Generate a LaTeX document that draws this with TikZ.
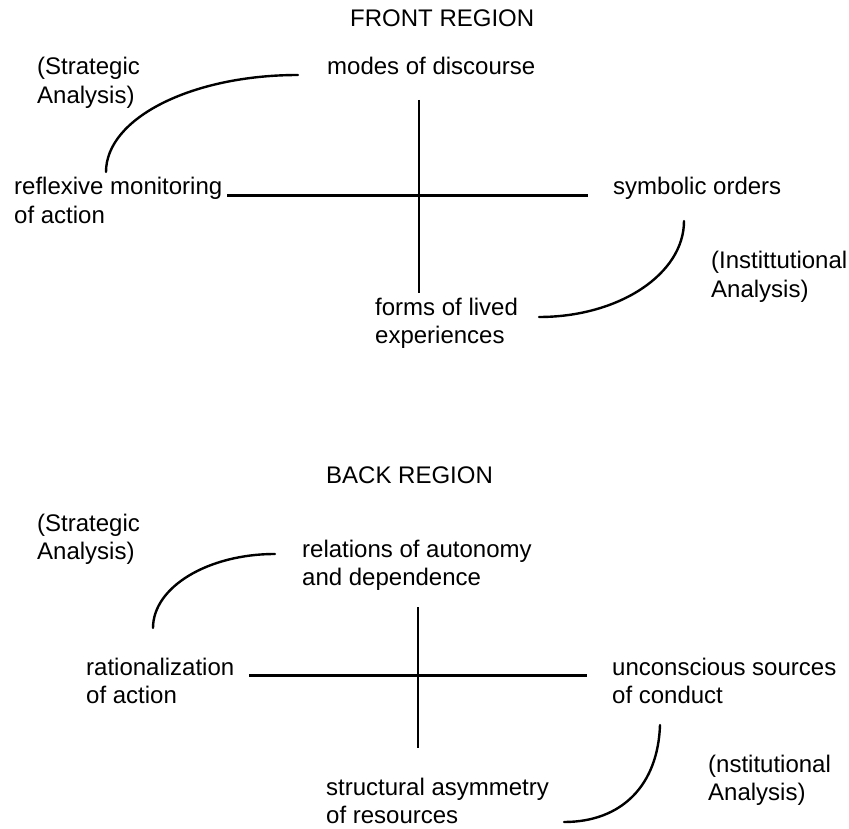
\documentclass[tikz,border=0pt]{standalone}
\usepackage{fontspec}
\setmainfont{Liberation Sans}
\begin{document}
\begin{tikzpicture}[x=1pt,y=-1pt,
  % labels are placed by the baseline of their last line
  lbl/.style={anchor=base west,inner sep=0pt,align=left,
    font=\fontsize{24}{28.5}\selectfont},
  axisv/.style={line width=2.2pt},
  axish/.style={line width=3pt},
  arcline/.style={line width=2.4pt,line cap=round}]
\useasboundingbox (0,0) rectangle (849,829);

% ---------- front region ----------
\node[lbl] (fronttitle) at (350,27) {FRONT REGION};
\node[lbl] (fmodes) at (327,75) {modes of discourse};
\node[lbl] (fstrat) at (37,103.5) {(Strategic\\Analysis)};
\node[lbl] (freflex) at (14,223.5) {reflexive monitoring\\of action};
\node[lbl] (fsymb) at (613,195) {symbolic orders};
\node[lbl] (finst) at (711,297.5) {(Instittutional\\Analysis)};
\node[lbl] (fforms) at (375,343.5) {forms of lived\\experiences};

\coordinate (fvt) at (419,100);
\coordinate (fvb) at (419,293);
\coordinate (fhl) at (227,196);
\coordinate (fhr) at (588,196);
\draw[axisv] (fvt) -- (fvb);
\draw[axish] (fhl) -- (fhr);

\coordinate (fa1) at (298,75);
\coordinate (fa2) at (106,172);
\draw[arcline] (fa1) .. controls (192,75) and (106,118) .. (fa2);
\coordinate (fb1) at (684,221);
\coordinate (fb2) at (539,317);
\draw[arcline] (fb1) .. controls (684,274) and (619,317) .. (fb2);

% ---------- back region ----------
\node[lbl] (backtitle) at (326,483) {BACK REGION};
\node[lbl] (bstrat) at (37,559.5) {(Strategic\\Analysis)};
\node[lbl] (brel) at (302,585.5) {relations of autonomy\\and dependence};
\node[lbl] (brat) at (86,703.5) {rationalization\\of action};
\node[lbl] (bunc) at (612,703.5) {unconscious sources\\of conduct};
\node[lbl] (binst) at (708,800.5) {(nstitutional\\Analysis)};
\node[lbl] (bstruct) at (326,823.5) {structural asymmetry\\of resources};

\coordinate (bvt) at (418,607);
\coordinate (bvb) at (418,748);
\coordinate (bhl) at (249,675);
\coordinate (bhr) at (587,675);
\draw[axisv] (bvt) -- (bvb);
\draw[axish] (bhl) -- (bhr);

\coordinate (ba1) at (275,554);
\coordinate (ba2) at (153,628);
\draw[arcline] (ba1) .. controls (208,554) and (153,587) .. (ba2);
\coordinate (bb1) at (660,725);
\coordinate (bb2) at (564,822);
\draw[arcline] (bb1) .. controls (658,785) and (622,822) .. (bb2);
\end{tikzpicture}
\end{document}
